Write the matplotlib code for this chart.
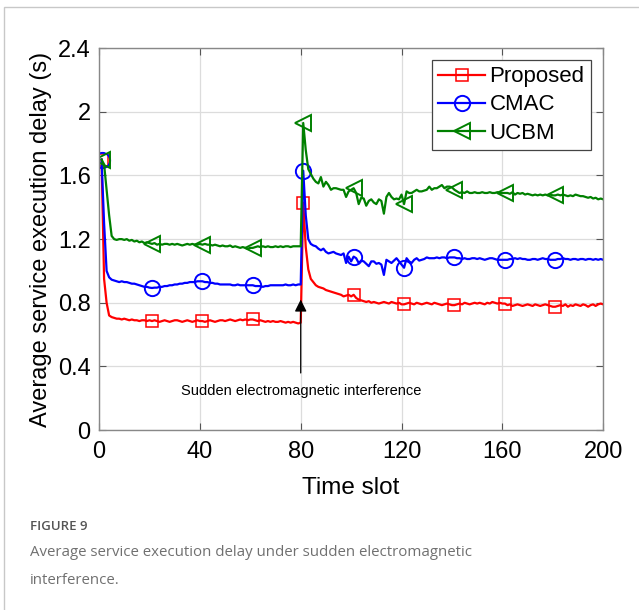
import numpy as np
import matplotlib
matplotlib.use("Agg")
import matplotlib.pyplot as plt
from matplotlib.patches import Rectangle

plt.rcParams['font.family'] = ['Liberation Sans', 'DejaVu Sans']

slots = np.arange(1, 201)

proposed = [
    1.70, 0.95, 0.80, 0.72, 0.71, 0.705, 0.70, 0.70, 0.695, 0.70,
    0.695, 0.69, 0.695, 0.69, 0.69, 0.685, 0.69, 0.69, 0.685, 0.69,
    0.685, 0.69, 0.685, 0.68, 0.685, 0.69, 0.685, 0.68, 0.685, 0.69,
    0.69, 0.685, 0.68, 0.685, 0.69, 0.685, 0.68, 0.685, 0.69, 0.685,
    0.685, 0.68, 0.685, 0.69, 0.685, 0.68, 0.685, 0.69, 0.69, 0.685,
    0.69, 0.695, 0.69, 0.685, 0.69, 0.695, 0.69, 0.695, 0.69, 0.695,
    0.695, 0.69, 0.685, 0.69, 0.685, 0.68, 0.685, 0.68, 0.685, 0.68,
    0.68, 0.685, 0.68, 0.675, 0.68, 0.675, 0.68, 0.675, 0.67, 0.675,
    1.43, 1.15, 1.01, 0.95, 0.93, 0.91, 0.90, 0.895, 0.89, 0.88,
    0.875, 0.87, 0.865, 0.86, 0.855, 0.85, 0.84, 0.845, 0.85, 0.84,
    0.85, 0.83, 0.82, 0.815, 0.81, 0.805, 0.81, 0.80, 0.805, 0.80,
    0.795, 0.80, 0.805, 0.80, 0.795, 0.805, 0.80, 0.795, 0.80, 0.79,
    0.79, 0.795, 0.80, 0.795, 0.79, 0.80, 0.795, 0.79, 0.795, 0.80,
    0.795, 0.79, 0.80, 0.795, 0.79, 0.785, 0.79, 0.795, 0.79, 0.785,
    0.785, 0.79, 0.795, 0.79, 0.80, 0.795, 0.79, 0.795, 0.80, 0.795,
    0.80, 0.795, 0.79, 0.80, 0.795, 0.805, 0.80, 0.795, 0.80, 0.795,
    0.795, 0.785, 0.79, 0.78, 0.785, 0.79, 0.785, 0.78, 0.785, 0.79,
    0.785, 0.78, 0.79, 0.785, 0.78, 0.785, 0.79, 0.785, 0.78, 0.775,
    0.775, 0.78, 0.785, 0.78, 0.79, 0.775, 0.785, 0.78, 0.79, 0.785,
    0.78, 0.79, 0.785, 0.775, 0.785, 0.79, 0.78, 0.79, 0.795, 0.79,
]

cmac = [
    1.70, 1.30, 1.00, 0.96, 0.945, 0.94, 0.935, 0.93, 0.935, 0.93,
    0.93, 0.925, 0.92, 0.92, 0.915, 0.91, 0.905, 0.90, 0.90, 0.895,
    0.893, 0.895, 0.895, 0.90, 0.90, 0.905, 0.905, 0.91, 0.91, 0.915,
    0.915, 0.92, 0.92, 0.925, 0.925, 0.93, 0.93, 0.93, 0.935, 0.935,
    0.935, 0.93, 0.93, 0.925, 0.925, 0.92, 0.92, 0.915, 0.915, 0.915,
    0.915, 0.915, 0.91, 0.91, 0.915, 0.91, 0.91, 0.91, 0.91, 0.91,
    0.91, 0.905, 0.905, 0.905, 0.90, 0.905, 0.905, 0.91, 0.91, 0.91,
    0.91, 0.91, 0.91, 0.915, 0.91, 0.91, 0.915, 0.91, 0.915, 0.915,
    1.63, 1.35, 1.20, 1.17, 1.16, 1.155, 1.14, 1.13, 1.14, 1.12,
    1.11, 1.115, 1.12, 1.11, 1.105, 1.10, 1.11, 1.05, 1.09, 1.06,
    1.09, 1.08, 1.05, 1.065, 1.06, 1.045, 1.03, 1.06, 1.06, 1.045,
    1.05, 1.04, 0.975, 1.07, 1.06, 1.05, 1.065, 1.08, 1.06, 1.04,
    1.02, 1.08, 1.06, 1.05, 1.07, 1.08, 1.065, 1.07, 1.075, 1.085,
    1.08, 1.08, 1.08, 1.085, 1.08, 1.085, 1.085, 1.08, 1.085, 1.085,
    1.085, 1.08, 1.08, 1.075, 1.08, 1.075, 1.075, 1.08, 1.08, 1.075,
    1.08, 1.075, 1.07, 1.075, 1.08, 1.08, 1.075, 1.07, 1.07, 1.07,
    1.07, 1.07, 1.075, 1.075, 1.08, 1.075, 1.08, 1.075, 1.075, 1.07,
    1.07, 1.075, 1.075, 1.07, 1.075, 1.08, 1.075, 1.075, 1.07, 1.07,
    1.07, 1.075, 1.075, 1.08, 1.075, 1.075, 1.07, 1.075, 1.075, 1.07,
    1.075, 1.075, 1.07, 1.075, 1.075, 1.07, 1.075, 1.07, 1.075, 1.07,
]

ucbm = [
    1.70, 1.67, 1.51, 1.35, 1.22, 1.20, 1.195, 1.20, 1.20, 1.195,
    1.20, 1.19, 1.195, 1.185, 1.19, 1.18, 1.185, 1.175, 1.18, 1.175,
    1.17, 1.175, 1.165, 1.17, 1.165, 1.17, 1.17, 1.165, 1.17, 1.165,
    1.17, 1.165, 1.16, 1.165, 1.17, 1.165, 1.17, 1.165, 1.165, 1.17,
    1.165, 1.17, 1.165, 1.165, 1.16, 1.165, 1.16, 1.155, 1.16, 1.155,
    1.155, 1.16, 1.15, 1.155, 1.15, 1.145, 1.15, 1.145, 1.14, 1.145,
    1.145, 1.15, 1.155, 1.15, 1.155, 1.15, 1.155, 1.15, 1.15, 1.155,
    1.15, 1.155, 1.15, 1.155, 1.155, 1.15, 1.155, 1.155, 1.155, 1.155,
    1.93, 1.76, 1.64, 1.61, 1.58, 1.56, 1.55, 1.59, 1.53, 1.56,
    1.54, 1.51, 1.52, 1.52, 1.515, 1.51, 1.51, 1.465, 1.50, 1.51,
    1.52, 1.49, 1.42, 1.46, 1.455, 1.41, 1.44, 1.45, 1.43, 1.42,
    1.45, 1.44, 1.36, 1.465, 1.49, 1.465, 1.45, 1.455, 1.45, 1.48,
    1.42, 1.50, 1.49, 1.49, 1.50, 1.51, 1.50, 1.50, 1.505, 1.51,
    1.53, 1.51, 1.52, 1.52, 1.53, 1.54, 1.52, 1.53, 1.53, 1.525,
    1.51, 1.50, 1.49, 1.495, 1.49, 1.50, 1.49, 1.49, 1.495, 1.49,
    1.49, 1.495, 1.49, 1.49, 1.495, 1.49, 1.49, 1.495, 1.49, 1.49,
    1.49, 1.49, 1.485, 1.495, 1.48, 1.49, 1.485, 1.49, 1.48, 1.485,
    1.48, 1.475, 1.48, 1.475, 1.48, 1.475, 1.48, 1.475, 1.48, 1.475,
    1.475, 1.48, 1.475, 1.48, 1.475, 1.47, 1.475, 1.47, 1.48, 1.475,
    1.47, 1.47, 1.465, 1.46, 1.465, 1.455, 1.46, 1.45, 1.455, 1.45,
]

xticks = [0, 40, 80, 120, 160, 200]
yticks = [0, 0.4, 0.8, 1.2, 1.6, 2.0, 2.4]
ytick_labels = ["0", "0.4", "0.8", "1.2", "1.6", "2", "2.4"]

fig = plt.figure(figsize=(6.39, 6.10), dpi=100)
ax = fig.add_axes([0.155, 0.295, 0.789, 0.626])

every = slice(0, None, 20)
ax.plot(slots, proposed, '-', color='#ff0000', lw=1.6, marker='s', ms=9,
        mfc='none', mew=1.1, markevery=every, label='Proposed')
ax.plot(slots, cmac, '-', color='#0000ff', lw=1.6, marker='o', ms=11,
        mfc='none', mew=1.4, markevery=every, label='CMAC')
ax.plot(slots, ucbm, '-', color='#008000', lw=1.6, marker='<', ms=12,
        mfc='none', mew=1.4, markevery=every, label='UCBM')

ax.set_xlim(0, 200)
ax.set_ylim(0, 2.4)
ax.set_xticks(xticks)
ax.set_yticks(yticks)
ax.set_yticklabels(ytick_labels)
ax.tick_params(axis='both', direction='in', top=True, right=True,
               labelsize=17, length=5, color='#555555')
ax.tick_params(axis='x', pad=8)
ax.tick_params(axis='y', pad=6)
ax.grid(True, color='#dcdcdc', lw=0.9)
ax.set_axisbelow(True)
for s in ax.spines.values():
    s.set_color('#888888')
    s.set_linewidth(1.0)

ax.set_xlabel('Time slot', fontsize=17.5, labelpad=10)
ax.set_ylabel('Average service execution delay (s)', fontsize=17, labelpad=4)

ax.annotate('Sudden electromagnetic interference', xy=(80, 0.82),
            xytext=(80, 0.245), ha='center', va='center', fontsize=10.5,
            arrowprops=dict(arrowstyle='-|>', color='black', lw=0.9,
                            mutation_scale=18, shrinkA=6, shrinkB=0))

leg = ax.legend(loc='upper right', fontsize=16, fancybox=False,
                framealpha=1, edgecolor='#444444', handlelength=2.1,
                borderpad=0.3, labelspacing=0.32, handletextpad=0.2,
                borderaxespad=0.0, bbox_to_anchor=(0.976, 0.97))
leg.get_frame().set_linewidth(0.9)

# page frame and caption
fig.patches.append(Rectangle((4 / 639, -0.01), 1.1, 1 - 7 / 610 + 0.01,
                             transform=fig.transFigure, fill=False,
                             edgecolor='#c8c8c8', lw=1.0))
fig.text(30 / 639, 1 - 527 / 610, 'FIGURE 9', fontsize=9.5, color='#555555',
         family='Open Sans', weight='semibold', va='center')
fig.text(30 / 639, 1 - 552 / 610,
         'Average service execution delay under sudden electromagnetic',
         fontsize=10.8, color='#707070', family='Open Sans', va='center')
fig.text(30 / 639, 1 - 580 / 610, 'interference.', fontsize=10.8,
         color='#707070', family='Open Sans', va='center')

fig.savefig('out.png', dpi=100)
